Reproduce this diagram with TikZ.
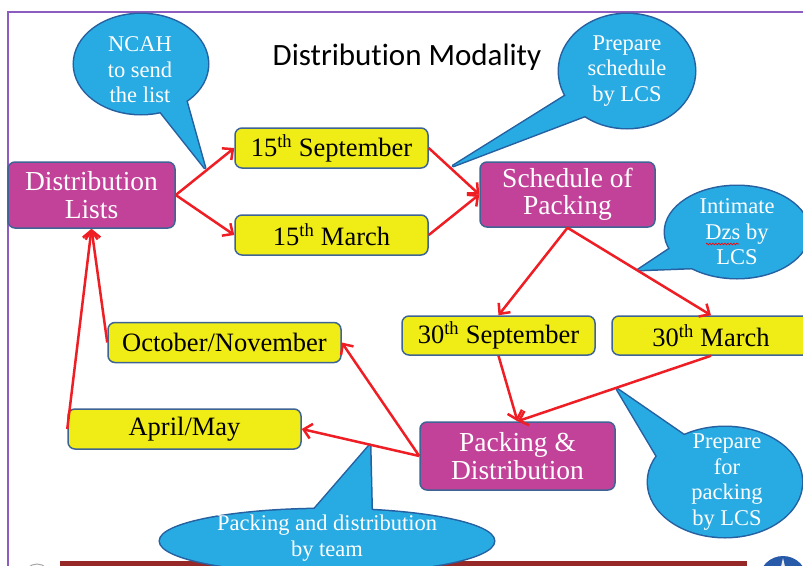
\documentclass[tikz,border=0pt]{standalone}
\usepackage{fontspec}
\setmainfont{Liberation Serif}
\newfontfamily\titlefont[Ligatures=NoCommon]{Carlito}
\usetikzlibrary{arrows.meta,calc,decorations.pathmorphing}
\definecolor{magbox}{RGB}{193,66,152}
\definecolor{yelbox}{RGB}{240,236,22}
\definecolor{boxline}{RGB}{62,100,150}
\definecolor{callfill}{RGB}{40,170,226}
\definecolor{callline}{RGB}{38,96,160}
\definecolor{arrowred}{RGB}{238,30,36}
\definecolor{framepurple}{RGB}{140,92,192}
\definecolor{barred}{RGB}{150,40,40}
\definecolor{logoblue}{RGB}{40,90,170}

\newcommand\callbubble[6]{%
  \pgfmathsetmacro\cbax{(#2-5)*cos(#4)}%
  \pgfmathsetmacro\cbay{(#3-5)*sin(#4)}%
  \pgfmathsetmacro\cbbx{(#2-5)*cos(#5)}%
  \pgfmathsetmacro\cbby{(#3-5)*sin(#5)}%
  \path[draw=callline, line width=3pt] (#1) ellipse [x radius=#2pt, y radius=#3pt];
  \path[draw=callline, line width=3pt, line join=round]
     ($(#1)+(\cbax,\cbay)$) -- (#6) -- ($(#1)+(\cbbx,\cbby)$) -- cycle;
  \path[fill=callfill] (#1) ellipse [x radius=#2pt, y radius=#3pt];
  \path[fill=callfill]
     ($(#1)+(\cbax,\cbay)$) -- (#6) -- ($(#1)+(\cbbx,\cbby)$) -- cycle;
}

\begin{document}
\begin{tikzpicture}[x=1pt,y=-1pt,
  box/.style={rounded corners=7pt, draw=boxline, line width=1.5pt, inner sep=0pt, align=center},
  yel/.style={box, fill=yelbox, text=black, font=\fontsize{26.5}{28}\selectfont},
  mag/.style={box, fill=magbox, text=white, font=\fontsize{27.5}{27.5}\selectfont},
  flow/.style={draw=arrowred, line width=2.5pt, -{Straight Barb[length=8pt,width=15pt]}},
  calltext/.style={text=white, align=center, font=\fontsize{22.5}{25.5}\selectfont, inner sep=0pt},
]
\clip (0,0) rectangle (803,565);
\fill[white] (0,0) rectangle (803,565);

% frame and footer
\draw[framepurple, line width=2pt] (8,575) -- (8,12) -- (815,12);
\fill[barred] (60,561) rectangle (747,575);
\draw[gray!70, line width=1pt] (37,577) circle [radius=13pt];
\fill[logoblue] (783,580) circle [radius=24pt];
\fill[white!85!gray] (780,571) -- (783,558) -- (786,571) -- cycle;

% title
\node[font=\titlefont\fontsize{31}{33}\selectfont, inner sep=0pt] (title) at (407,57) {Distribution Modality};

% callout centres and tips
\coordinate (c1) at (141,64);
\coordinate (c2) at (627,71);
\coordinate (c3) at (737,232);
\coordinate (c4) at (725,482);
\coordinate (c5) at (327,541);
\coordinate (t1) at (205,168);
\coordinate (t2) at (453,166);
\coordinate (t3) at (638,270);
\coordinate (t4) at (617,389);
\coordinate (t5) at (370,445);

\callbubble{c1}{67}{50}{45}{75}{t1}
\callbubble{c2}{68}{57}{125}{155}{t2}
\callbubble{c3}{72}{46}{120}{160}{t3}
\callbubble{c4}{77}{55}{205}{240}{t4}
\callbubble{c5}{167}{32}{264}{286}{t5}

\node[calltext] (n1) at (140,70) {NCAH\\to send\\the list};
\node[calltext] (n2) at (627,71) {Prepare\\schedule\\by LCS};
\node[calltext] (n3) at (737,232) {Intimate\\Dzs by\\LCS};
\node[calltext] (n4) at (727,482) {Prepare\\for\\packing\\by LCS};
\node[calltext] (n5) at (327,538) {Packing and distribution\\by team};
\draw[red, line width=0.7pt, decorate, decoration={snake, amplitude=0.8pt, segment length=3pt}]
  ($(n3.center)+(-31,12)$) -- ($(n3.center)+(2,12)$);

% boxes
\node[mag, minimum width=167pt, minimum height=66pt] (dl) at (91.5,195) {Distribution\\Lists};
\node[yel, minimum width=193pt, minimum height=40pt] (s15) at (331.5,148) {15\textsuperscript{th} September};
\node[yel, minimum width=193pt, minimum height=40pt] (m15) at (331.5,235) {15\textsuperscript{th} March};
\node[mag, minimum width=175pt, minimum height=65pt] (sch) at (567.5,194.5) {Schedule of\\Packing};
\node[yel, minimum width=193pt, minimum height=39pt] (s30) at (498.5,335.5) {30\textsuperscript{th} September};
\node[yel, minimum width=198pt, minimum height=39pt] (m30) at (711,335.5) {30\textsuperscript{th} March};
\node[yel, minimum width=233pt, minimum height=40pt] (on) at (224.5,342.5) {October/November};
\node[yel, minimum width=233pt, minimum height=40pt] (am) at (184.5,429) {April/May};
\node[mag, minimum width=195pt, minimum height=68pt] (pd) at (517.5,456) {Packing \&\\Distribution};

% connectors
\draw[flow] (dl.east) -- (s15.west);
\draw[flow] (dl.east) -- (m15.west);
\draw[flow] (s15.east) -- (sch.west);
\draw[flow] (m15.east) -- (sch.west);
\draw[flow] (sch.south) -- (s30.north);
\draw[flow] (sch.south) -- (m30.north);
\draw[flow] (s30.south) -- (pd.north);
\draw[flow] (m30.south) -- (pd.north);
\draw[flow] (pd.west) -- (on.east);
\draw[flow] (pd.west) -- (am.east);
\draw[flow] (on.west) -- (dl.south);
\draw[flow] (am.west) -- (dl.south);
\end{tikzpicture}
\end{document}
